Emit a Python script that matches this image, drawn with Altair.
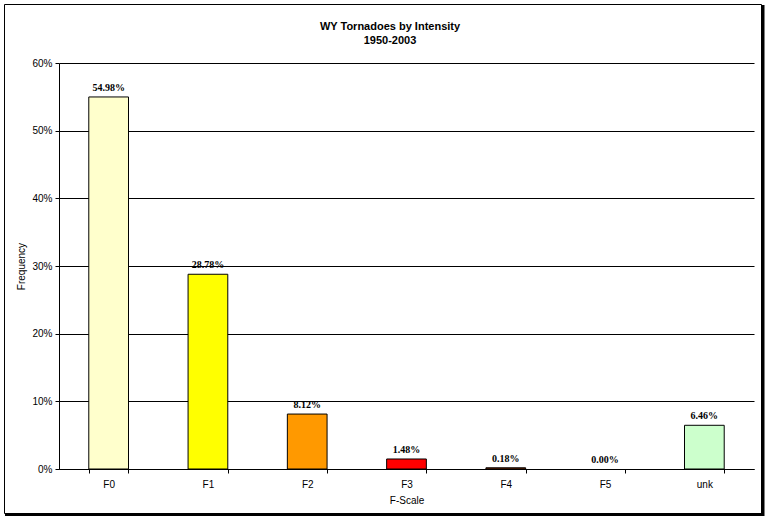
import altair as alt
import pandas as pd

categories = ["F0", "F1", "F2", "F3", "F4", "F5", "unk"]
values = [54.98, 28.78, 8.12, 1.48, 0.18, 0.00, 6.46]
colors = ["#FFFFCC", "#FFFF00", "#FF9900", "#FF0000", "#993300", "#FFFFFF", "#CCFFCC"]
title_lines = ["WY Tornadoes by Intensity", "1950-2003"]

df = pd.DataFrame({
    "cat": categories,
    "val": [v / 100 for v in values],
    "label": [f"{v:.2f}%" for v in values],
    "color": colors,
})

W, H = 695, 406
one = pd.DataFrame({"a": [0]})

frame = alt.Chart(one).mark_rect(fillOpacity=0, stroke="black", strokeWidth=1).encode(
    x=alt.value(-54.5), x2=alt.value(702.5), y=alt.value(-58.5), y2=alt.value(450.5)
)
shadow_r = alt.Chart(one).mark_rule(color="black", strokeWidth=3).encode(
    x=alt.value(704), y=alt.value(-58), y2=alt.value(453)
)
shadow_b = alt.Chart(one).mark_rule(color="black", strokeWidth=3).encode(
    x=alt.value(-54), x2=alt.value(705), y=alt.value(451.5)
)

title1 = alt.Chart(one).mark_text(font="Liberation Sans", fontSize=11, fontWeight="bold",
                                  color="black").encode(
    x=alt.value(331), y=alt.value(-36), text=alt.value(title_lines[0])
)
title2 = alt.Chart(one).mark_text(font="Liberation Sans", fontSize=11, fontWeight="bold",
                                  color="black").encode(
    x=alt.value(331), y=alt.value(-22), text=alt.value(title_lines[1])
)

xenc = alt.X("cat:N", sort=categories, title="F-Scale",
             scale=alt.Scale(paddingInner=0.6, paddingOuter=0.3),
             axis=alt.Axis(labelAngle=0, tickBand="extent", domainColor="black",
                           tickColor="black", tickSize=4, labelFont="Liberation Sans",
                           labelFontSize=10, labelColor="black", labelPadding=6,
                           titleFont="Liberation Sans", titleFontSize=10,
                           titleFontWeight="normal", titleColor="black", titlePadding=6))
yenc = alt.Y("val:Q", title="Frequency",
             scale=alt.Scale(domain=[0, 0.6], nice=False),
             axis=alt.Axis(format=".0%", values=[0, 0.1, 0.2, 0.3, 0.4, 0.5, 0.6],
                           grid=True, gridColor="black", gridOpacity=1, gridWidth=1,
                           domainColor="black", tickColor="black", tickSize=4,
                           labelFont="Liberation Sans", labelFontSize=10, labelColor="black",
                           labelPadding=3, titleFont="Liberation Sans", titleFontSize=10,
                           titleFontWeight="normal", titleColor="black", titlePadding=5))

base = alt.Chart(df)
bars = base.mark_bar(stroke="black", strokeWidth=1).encode(
    x=xenc, y=yenc,
    color=alt.Color("color:N", scale=None),
).transform_filter("datum.val > 0")

labels = base.mark_text(font="Liberation Serif", fontWeight="bold", fontSize=10,
                        dy=-9, color="black").encode(
    x=alt.X("cat:N", sort=categories), y="val:Q", text="label:N"
)

chart = alt.layer(bars, labels, frame, shadow_r, shadow_b, title1, title2).properties(
    width=W, height=H,
    autosize=alt.AutoSizeParams(type="none"),
    padding={"left": 59, "top": 63, "right": 14, "bottom": 56},
    background="white",
).configure_view(stroke=None)

chart.save("out.html", embed_options={"renderer": "svg", "actions": False})
